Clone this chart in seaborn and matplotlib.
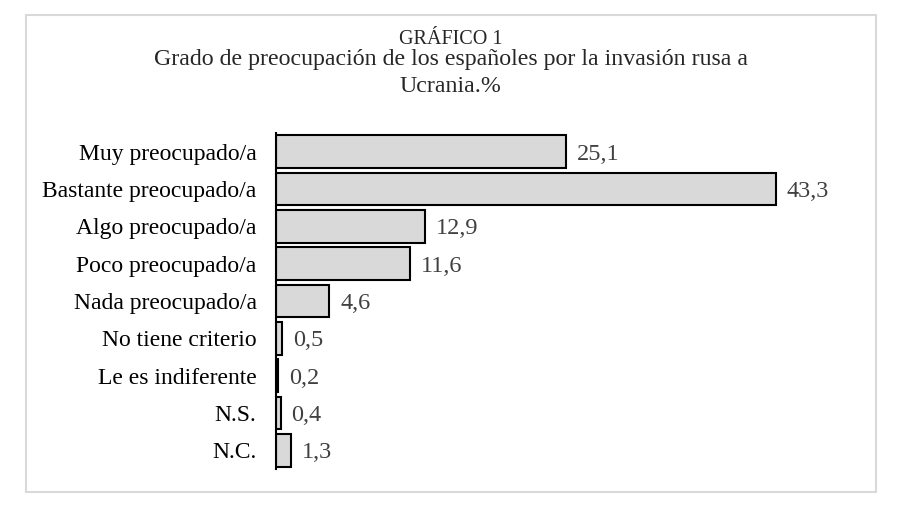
import numpy as np
import pandas as pd
import matplotlib.pyplot as plt
import seaborn as sns
from matplotlib.patches import Rectangle

# Data
categorias = ['Muy preocupado/a', 'Bastante preocupado/a', 'Algo preocupado/a',
              'Poco preocupado/a', 'Nada preocupado/a', 'No tiene criterio',
              'Le es indiferente', 'N.S.', 'N.C.']
porcentajes = [25.1, 43.3, 12.9, 11.6, 4.6, 0.5, 0.2, 0.4, 1.3]

df = pd.DataFrame({'cat': categorias, 'pct': porcentajes})

sns.set_style('white')
plt.rcParams['font.family'] = ['Liberation Serif', 'DejaVu Serif']

fig = plt.figure(figsize=(9.01, 5.05), dpi=100)
ax = fig.add_axes([276 / 901, 1 - 469 / 505, 577 / 901, 336 / 505])

sns.barplot(data=df, x='pct', y='cat', orient='h', color='#D9D9D9',
            edgecolor='black', linewidth=1.5, width=0.88, saturation=1, ax=ax)

ax.set_xlim(0, 50)
ax.set_ylim(len(categorias) - 0.5, -0.5)
for s in ['top', 'right', 'bottom']:
    ax.spines[s].set_visible(False)
ax.spines['left'].set_color('black')
ax.spines['left'].set_linewidth(1.5)
ax.set_xticks([])
ax.set_xlabel('')
ax.set_ylabel('')
ax.tick_params(axis='y', length=0, pad=14, labelsize=17, labelcolor='black')

# value labels
for i, v in enumerate(porcentajes):
    ax.text(v + 0.95, i, f'{v:.1f}'.replace('.', ','), va='center_baseline',
            ha='left', fontsize=17.5, color='#404040')

# title
fig.text(0.5, 1 - 39 / 505, 'GRÁFICO 1', ha='center', va='center', fontsize=14.5)
fig.text(0.5, 1 - 60 / 505,
         'Grado de preocupación de los españoles por la invasión rusa a',
         ha='center', va='center', fontsize=17.2)
fig.text(0.5, 1 - 87 / 505, 'Ucrania.%', ha='center', va='center', fontsize=17.2)

# outer border
fig.patches.append(Rectangle((26 / 901, 1 - 492 / 505), 850 / 901, 477 / 505,
                             transform=fig.transFigure, fill=False,
                             edgecolor='#D9D9D9', linewidth=1.5))

fig.savefig('out.png', dpi=100)
